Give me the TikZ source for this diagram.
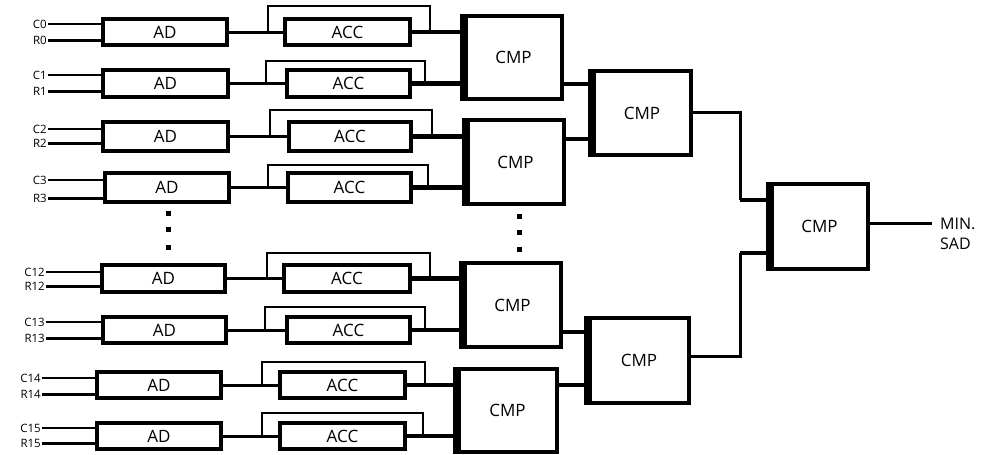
\documentclass[tikz,border=0pt]{standalone}
\usepackage{fontspec}
\setmainfont{Open Sans}
\begin{document}
\begin{tikzpicture}[x=1pt,y=-1pt,
  blk/.style={draw,line width=4pt,inner sep=0pt,font=\fontsize{17}{17}\selectfont},
  inlbl/.style={anchor=east,inner sep=1pt,font=\fontsize{11.5}{11.5}\selectfont},
  cline/.style={line width=2pt},
  rline/.style={line width=3pt},
  adacc/.style={line width=3pt},
  fb/.style={line width=2.5pt},
  accout/.style={line width=4.5pt},
  cmpl/.style={line width=3pt},
  cmpthick/.style={line width=4.5pt},
  dotm/.style={fill,inner sep=0pt,minimum size=5pt,rectangle}]
\useasboundingbox (0,0) rectangle (983,455);
% rows: name / ADl / ADr / ACCl / ACCr / top / bottom / loop top / C y / R y / branch x / loop right x / label end / CMP left / C label / R label
\foreach \n/\adl/\adr/\accl/\accr/\yt/\yb/\lt/\cy/\ry/\bx/\lx/\le/\cmpx/\cl/\rl in {
  r0/103/227/285/410/19/45/6/24/40/268/430/48/465/C0/R0,
  r1/103/228/287/410/70/97/61/75/91/266/425/48/465/C1/R1,
  r2/103/228/289/411/122/151/110/129/143/270/432/48/467/C2/R2,
  r3/105/229/288/411/173/202/165/180/198/268/428/48/467/C3/R3,
  r12/102/225/284/410/265/292/253/272/286/267/430/46/464/C12/R12,
  r13/103/226/287/410/317/343/307/322/338/265/425/46/464/C13/R13,
  r14/97/221/280/405/372/398/362/378/394/262/425/42/458/C14/R14,
  r15/97/221/280/405/423/449/413/428/443/262/423/42/458/C15/R15}{
  \node[blk,minimum width={\adr-\adl},minimum height={\yb-\yt}] (ad\n) at ({(\adl+\adr)/2},{(\yt+\yb)/2}) {AD};
  \node[blk,minimum width={\accr-\accl},minimum height={\yb-\yt}] (acc\n) at ({(\accl+\accr)/2},{(\yt+\yb)/2}) {ACC};
  \coordinate (cs\n) at (\le,\cy);
  \coordinate (rs\n) at (\le,\ry);
  \node[inlbl] (cl\n) at (cs\n) {\cl};
  \node[inlbl] (rl\n) at (rs\n) {\rl};
  \draw[cline] (cs\n) -- (ad\n.west |- cs\n);
  \draw[rline] (rs\n) -- (ad\n.west |- rs\n);
  \coordinate (br\n) at (\bx,{(\yt+\yb)/2});
  \coordinate (lt\n) at (\lx,\lt);
  \coordinate (lo\n) at (\lx,{(\yt+\yb)/2});
  \coordinate (cin\n) at (\cmpx,{(\yt+\yb)/2});
  \draw[adacc] (ad\n.east) -- (acc\n.west);
  \draw[fb] (br\n) |- (lt\n) -- (lo\n);
  \draw[accout] (acc\n.east) -- (cin\n);
}
% comparators
\tikzset{cmp/.style={draw,line width=4pt,inner sep=0pt,font=\fontsize{17}{17}\selectfont}}
\node[cmp,minimum width=97,minimum height=83] (cA) at (513.5,57.5) {CMP};
\node[cmp,minimum width=97,minimum height=84] (cB) at (515.5,162) {CMP};
\node[cmp,minimum width=97,minimum height=84] (cC) at (512.5,305) {CMP};
\node[cmp,minimum width=99,minimum height=83] (cD) at (507.5,410.5) {CMP};
\node[cmp,minimum width=98,minimum height=84] (cE) at (642,113) {CMP};
\node[cmp,minimum width=100,minimum height=85] (cF) at (639,360.5) {CMP};
\node[cmp,minimum width=97,minimum height=85] (cG) at (819.5,226.5) {CMP};
\foreach \c in {cA,cB,cC,cD,cE,cF,cG}{
  \draw[line width=8pt] ([xshift=1pt]\c.north west) -- ([xshift=1pt]\c.south west);
}
% second level
\coordinate (eA) at (cE.west |- 0,84);
\coordinate (eB) at (cE.west |- 0,139);
\draw[cmpthick] (cA.east |- eA) -- (eA);
\draw[cmpthick] (cB.east |- eB) -- (eB);
\coordinate (fC) at (cF.west |- 0,332);
\coordinate (fD) at (cF.west |- 0,385);
\draw[cmpthick] (cC.east |- fC) -- (fC);
\draw[cmpthick] (cD.east |- fD) -- (fD);
% third level
\coordinate (eo) at (cE.east |- 0,112);
\coordinate (ek) at (740,112);
\coordinate (ed) at (740,200);
\coordinate (gE) at (cG.west |- 0,200);
\draw[cmpl] (eo) -- (ek) -- (ed);
\draw[cmpthick] (ed) -- (gE);
\coordinate (fo) at (cF.east |- 0,356);
\coordinate (fk) at (740,356);
\coordinate (fu) at (740,253);
\coordinate (gF) at (cG.west |- 0,253);
\draw[cmpl] (fo) -- (fk) -- (fu);
\draw[cmpthick] (fu) -- (gF);
% output
\coordinate (go) at (932,223);
\draw[cmpl] (cG.east |- go) -- (go);
\node[anchor=west,inner sep=0pt,align=left,font=\fontsize{16}{20}\selectfont] (out) at (940,234) {MIN.\\SAD};
% dots
\foreach \y [count=\i] in {213,229,247}{\node[dotm] (da\i) at (168,\y) {};}
\foreach \y [count=\i] in {216,232,249}{\node[dotm] (db\i) at (519,\y) {};}
\end{tikzpicture}
\end{document}
